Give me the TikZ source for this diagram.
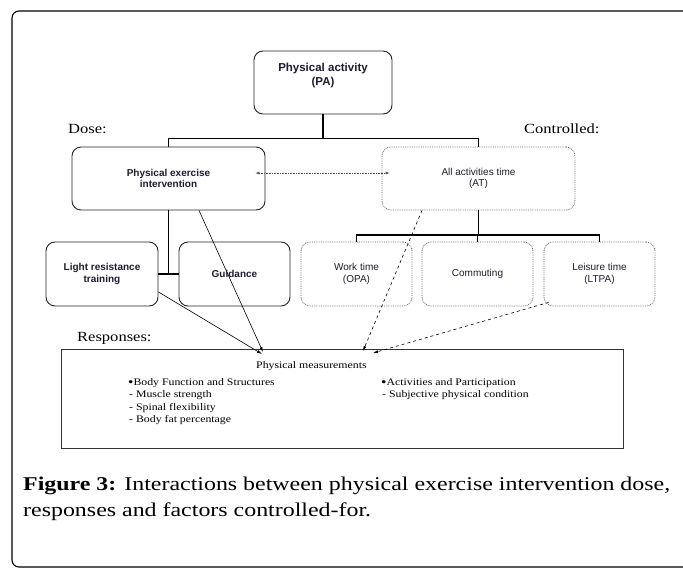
\documentclass[tikz,border=0pt]{standalone}
\usepackage{fontspec}
\setmainfont{Liberation Serif}
\newfontfamily\sans{Liberation Sans}
\newfontfamily\pal[FakeStretch=1.18]{Liberation Serif}
\usetikzlibrary{arrows.meta}
\definecolor{boxtext}{RGB}{28,28,48}
\newsavebox\capA
\newsavebox\capB
\newcommand\mybul{\raisebox{-0.3ex}{\scalebox{1.3}{\textbullet}}}
\tikzset{
 sbox/.style={draw=black!85, line width=0.9pt, rounded corners=9pt, minimum height=63pt, inner sep=0pt, align=center, text=boxtext, font=\sans\bfseries\fontsize{10}{11.5}\selectfont},
 dbox/.style={draw=black!60, densely dotted, line width=0.8pt, rounded corners=9pt, minimum height=63pt, inner sep=0pt, align=center, text=boxtext, font=\sans\fontsize{10}{11.5}\selectfont},
 bus/.style={line width=1.8pt, black},
 lab/.style={font=\pal\fontsize{14}{16}\selectfont, anchor=base west, inner sep=0pt},
 mtext/.style={font=\pal\fontsize{10}{12}\selectfont, anchor=base west, inner sep=0pt},
 arr/.style={-{Latex[length=5pt,width=3pt]}, line width=0.6pt},
 darr/.style={arr, dashed},
 captext/.style={anchor=base west, inner sep=0pt},
}
\begin{document}
\sbox\capA{\fontsize{19.5}{24}\selectfont\textbf{Figure 3:} Interactions between physical exercise intervention dose,}%
\sbox\capB{\fontsize{19.5}{24}\selectfont responses and factors controlled-for.}%
\pgfmathsetmacro\capsx{647/\the\wd\capA}%
\begin{tikzpicture}[x=1pt, y=-1pt]
\clip (0,0) rectangle (683,568);
\fill[white] (0,0) rectangle (683,568);
\draw[line width=1.1pt, rounded corners=7pt] (12,11) rectangle (700,567);

% boxes
\node[sbox, minimum width=138pt] (pa) at (323,82.5) {};
\node[text=boxtext, font=\sans\bfseries\fontsize{11.5}{14}\selectfont, align=center, inner sep=0pt] (patext) at (323,76) {Physical activity\\(PA)};
\node[sbox, minimum width=193pt] (pei) at (168.5,178.5) {Physical exercise\\intervention};
\node[dbox, minimum width=193pt] (at) at (478.5,178.5) {All activities time\\(AT)};
\node[sbox, minimum width=112pt, minimum height=64pt] (lrt) at (102,274) {Light resistance\\training};
\node[sbox, minimum width=111pt, minimum height=64pt] (gui) at (234.5,274) {Guidance};
\node[dbox, minimum width=111pt, minimum height=64pt] (wrk) at (356.5,274) {Work time\\(OPA)};
\node[dbox, minimum width=111pt, minimum height=64pt] (com) at (477.5,274) {Commuting};
\node[dbox, minimum width=111pt, minimum height=64pt] (lei) at (599.5,274) {Leisure time\\(LTPA)};
\node[draw=black!80, line width=1pt, minimum width=562pt, minimum height=99pt, inner sep=0pt] (meas) at (342,398.5) {};

% labels
\node[lab] (dose) at (68,133) {Dose:};
\node[lab] (ctrl) at (524,133) {Controlled:};
\node[lab] (resp) at (77,341) {Responses:};

% measurement texts
\node[mtext] (pm) at (256,368) {Physical measurements};
\node[mtext] (l1) at (128,385) {\mybul Body Function and Structures};
\node[mtext] (l2) at (129,397) {- Muscle strength};
\node[mtext] (l3) at (129,410) {- Spinal flexibility};
\node[mtext] (l4) at (129,422) {- Body fat percentage};
\node[mtext] (r1) at (381,385) {\mybul Activities and Participation};
\node[mtext] (r2) at (382,397) {- Subjective physical condition};

% bus lines
\draw[bus] (pa.south) -- ++(0,25);
\draw[bus] (pei.north) -- ++(0,-8) -| (at.north);
\draw[bus] (pei.south) -- (pei.south |- lrt.east);
\draw[bus] (lrt.east) -- (gui.west);
\draw[bus] (at.south) -- ++(0,25);
\draw[bus] (wrk.north) -- ++(0,-7) -| (lei.north);
\draw[bus] (com.north) -- ++(0,-7);

% dotted double arrow
\draw[densely dotted, black!70, line width=0.6pt, {Latex[length=4pt,width=3pt]}-{Latex[length=4pt,width=3pt]}]
  ([xshift=-10pt,yshift=5.5pt]pei.east) -- ([xshift=8pt,yshift=5.5pt]at.west);

% arrows to measurements
\coordinate (t1) at (263,352);
\coordinate (t2) at (262,354);
\coordinate (t3) at (363,351);
\coordinate (t4) at (373,353);
\draw[arr] ([xshift=30.5pt]pei.south) -- (t1);
\draw[arr] ([yshift=-18pt]lrt.east) -- (t2);
\draw[darr] ([xshift=-56.5pt]at.south) -- (t3);
\draw[darr] ([xshift=5pt,yshift=4pt]lei.south west) -- (t4);

% caption
\node[captext] (cap1) at (23,490) {\scalebox{\capsx}[1]{\usebox\capA}};
\node[captext] (cap2) at (23,516) {\scalebox{\capsx}[1]{\usebox\capB}};
\end{tikzpicture}
\end{document}
